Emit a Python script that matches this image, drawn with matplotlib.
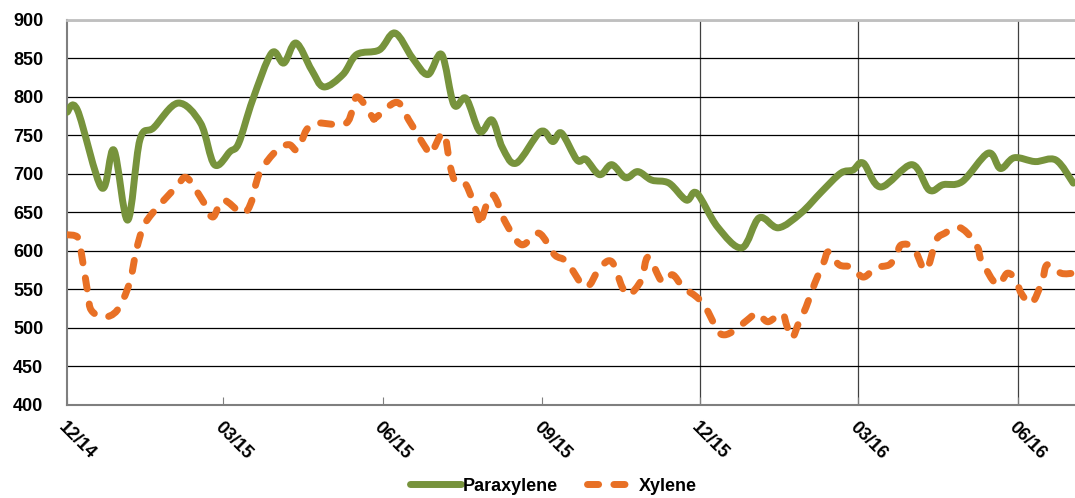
import numpy as np
import pandas as pd
import matplotlib.pyplot as plt
import matplotlib.dates as mdates
from matplotlib.path import Path
from matplotlib.patches import PathPatch
from matplotlib.lines import Line2D

# Paraxylene (linha verde contínua)
para_dates = ["2014-12-01", "2014-12-07", "2014-12-21", "2014-12-28", "2015-01-05",
              "2015-01-12", "2015-01-20", "2015-02-03", "2015-02-16", "2015-02-24",
              "2015-03-05", "2015-03-10", "2015-03-18", "2015-03-29", "2015-04-05",
              "2015-04-12", "2015-04-21", "2015-04-28", "2015-05-09", "2015-05-17",
              "2015-05-30", "2015-06-08", "2015-06-18", "2015-06-27", "2015-07-05",
              "2015-07-12", "2015-07-19", "2015-07-27", "2015-08-03", "2015-08-09",
              "2015-08-17", "2015-08-31", "2015-09-07", "2015-09-12", "2015-09-21",
              "2015-09-26", "2015-10-04", "2015-10-11", "2015-10-19", "2015-10-26",
              "2015-11-03", "2015-11-13", "2015-11-23", "2015-11-29", "2015-12-11",
              "2015-12-25", "2016-01-04", "2016-01-15", "2016-01-28", "2016-02-09",
              "2016-02-20", "2016-02-27", "2016-03-04", "2016-03-14", "2016-04-01",
              "2016-04-11", "2016-04-19", "2016-04-30", "2016-05-15", "2016-05-22",
              "2016-05-30", "2016-06-11", "2016-06-23", "2016-07-03"]
para_values = [780, 783, 682, 731, 640,
               744, 760, 792, 766, 712,
               729, 740, 796, 857, 844,
               870, 835, 813, 829, 855,
               861, 883, 851, 829, 855,
               790, 798, 755, 770, 734,
               714, 755, 742, 753, 718,
               719, 699, 712, 695, 703,
               692, 688, 666, 675, 631,
               604, 643, 630, 649, 677,
               701, 705, 714, 683, 712,
               679, 686, 690, 727, 707,
               721, 716, 718, 688]

# Xylene (linha laranja tracejada)
xyl_dates = ["2014-12-01", "2014-12-07", "2014-12-09", "2014-12-13", "2014-12-15",
             "2014-12-22", "2014-12-30", "2015-01-06", "2015-01-10", "2015-01-14",
             "2015-01-20", "2015-02-02", "2015-02-08", "2015-02-17", "2015-02-23",
             "2015-03-01", "2015-03-12", "2015-03-17", "2015-03-22", "2015-04-01",
             "2015-04-08", "2015-04-13", "2015-04-18", "2015-04-24", "2015-05-11",
             "2015-05-17", "2015-05-26", "2015-05-28", "2015-06-09", "2015-06-16",
             "2015-06-26", "2015-06-29", "2015-07-06", "2015-07-10", "2015-07-13",
             "2015-07-19", "2015-07-26", "2015-07-27", "2015-08-03", "2015-08-11",
             "2015-08-20", "2015-08-30", "2015-09-08", "2015-09-15", "2015-09-26",
             "2015-10-04", "2015-10-11", "2015-10-17", "2015-10-21", "2015-10-28",
             "2015-11-01", "2015-11-09", "2015-11-15", "2015-11-21", "2015-11-29",
             "2015-12-04", "2015-12-11", "2015-12-15", "2015-12-21", "2015-12-28",
             "2016-01-03", "2016-01-09", "2016-01-17", "2016-01-20", "2016-01-23",
             "2016-01-27", "2016-01-31", "2016-02-05", "2016-02-10", "2016-02-13",
             "2016-02-19", "2016-02-26", "2016-03-04", "2016-03-11", "2016-03-19",
             "2016-03-23", "2016-03-26", "2016-04-02", "2016-04-09", "2016-04-15",
             "2016-04-20", "2016-04-27", "2016-05-03", "2016-05-09", "2016-05-11",
             "2016-05-20", "2016-05-26", "2016-05-31", "2016-06-03", "2016-06-09",
             "2016-06-15", "2016-06-18", "2016-06-26", "2016-07-03"]
xyl_values = [621, 618, 601, 545, 523,
              514, 523, 558, 601, 631,
              651, 683, 695, 666, 644,
              666, 649, 662, 701, 731,
              738, 731, 757, 766, 766,
              800, 774, 773, 793, 770,
              733, 727, 753, 709, 690,
              686, 644, 634, 673, 636,
              608, 623, 595, 586, 553,
              578, 586, 553, 543, 562,
              592, 560, 569, 553, 540,
              527, 497, 491, 497, 510,
              519, 508, 519, 502, 487,
              508, 527, 558, 584, 599,
              582, 579, 566, 578, 582,
              595, 608, 604, 575, 614,
              623, 631, 623, 604, 588,
              556, 571, 562, 545, 532,
              560, 582, 571, 571]

tick_dates = ["2014-12-01", "2015-03-01", "2015-06-01", "2015-09-01",
              "2015-12-01", "2016-03-01", "2016-06-01"]
vline_dates = ["2015-12-01", "2016-03-01", "2016-06-01"]

GREEN = '#77933C'
ORANGE = '#E87025'
DASH = (0, (1.6, 2.2))


def smooth_path(dates, values):
    # curva suavizada estilo Excel (Catmull-Rom -> Bezier) passando pelos pontos
    x = mdates.date2num(pd.to_datetime(dates))
    y = np.asarray(values, dtype=float)
    p = np.column_stack([x, y])
    ext = np.vstack([p[0], p, p[-1]])
    verts = [p[0]]
    codes = [Path.MOVETO]
    for i in range(len(p) - 1):
        p0, p1, p2, p3 = ext[i], ext[i + 1], ext[i + 2], ext[i + 3]
        verts += [p1 + (p2 - p0) / 6, p2 - (p3 - p1) / 6, p2]
        codes += [Path.CURVE4] * 3
    return Path(verts, codes)


plt.rcParams['font.family'] = ['Liberation Sans', 'DejaVu Sans']

fig = plt.figure(figsize=(10.75, 4.98), dpi=100)
ax = fig.add_axes([0.0623, 0.187, 0.9377, 0.773])

# Grade horizontal preta
ax.set_ylim(400, 900)
ax.set_yticks(range(400, 901, 50))
ax.grid(axis='y', color='black', linewidth=0.9, zorder=0)

for d in vline_dates:
    ax.axvline(pd.Timestamp(d), color='#404040', linewidth=0.9, zorder=1)

ax.add_patch(PathPatch(smooth_path(para_dates, para_values), fill=False,
                       edgecolor=GREEN, linewidth=5, capstyle='round',
                       joinstyle='round', zorder=3))
ax.add_patch(PathPatch(smooth_path(xyl_dates, xyl_values), fill=False,
                       edgecolor=ORANGE, linewidth=5, linestyle=DASH,
                       capstyle='round', joinstyle='round', zorder=3))

ax.set_xlim(pd.Timestamp("2014-12-01"), pd.Timestamp("2016-07-04"))
ax.set_xticks(pd.to_datetime(tick_dates))
ax.xaxis.set_major_formatter(mdates.DateFormatter('%m/%y'))

# Estilo dos eixos
ax.spines['right'].set_visible(False)
ax.spines['top'].set_color('#BFBFBF')
ax.spines['top'].set_linewidth(2)
for s in ['left', 'bottom']:
    ax.spines[s].set_color('#7F7F7F')
    ax.spines[s].set_linewidth(1.5)

ax.tick_params(axis='y', length=0, pad=17, labelsize=13)
ax.tick_params(axis='x', direction='in', length=6, color='#7F7F7F', pad=10, labelsize=13)
for lab in ax.get_yticklabels():
    lab.set_fontweight('bold')
for lab in ax.get_xticklabels():
    lab.set_fontweight('bold')
    lab.set_rotation(-45)
    lab.set_ha('left')
    lab.set_va('top')
    lab.set_rotation_mode('anchor')

handles = [Line2D([], [], color=GREEN, linewidth=5, solid_capstyle='round'),
           Line2D([], [], color=ORANGE, linewidth=5, linestyle=DASH,
                  dash_capstyle='round')]
fig.legend(handles, ['Paraxylene', 'Xylene'], loc='center',
           bbox_to_anchor=(0.515, 0.024), ncol=2, frameon=False,
           prop={'weight': 'bold', 'size': 13}, handlelength=2.8,
           handletextpad=0.1, columnspacing=1.6)

fig.savefig("out.png", dpi=100)
